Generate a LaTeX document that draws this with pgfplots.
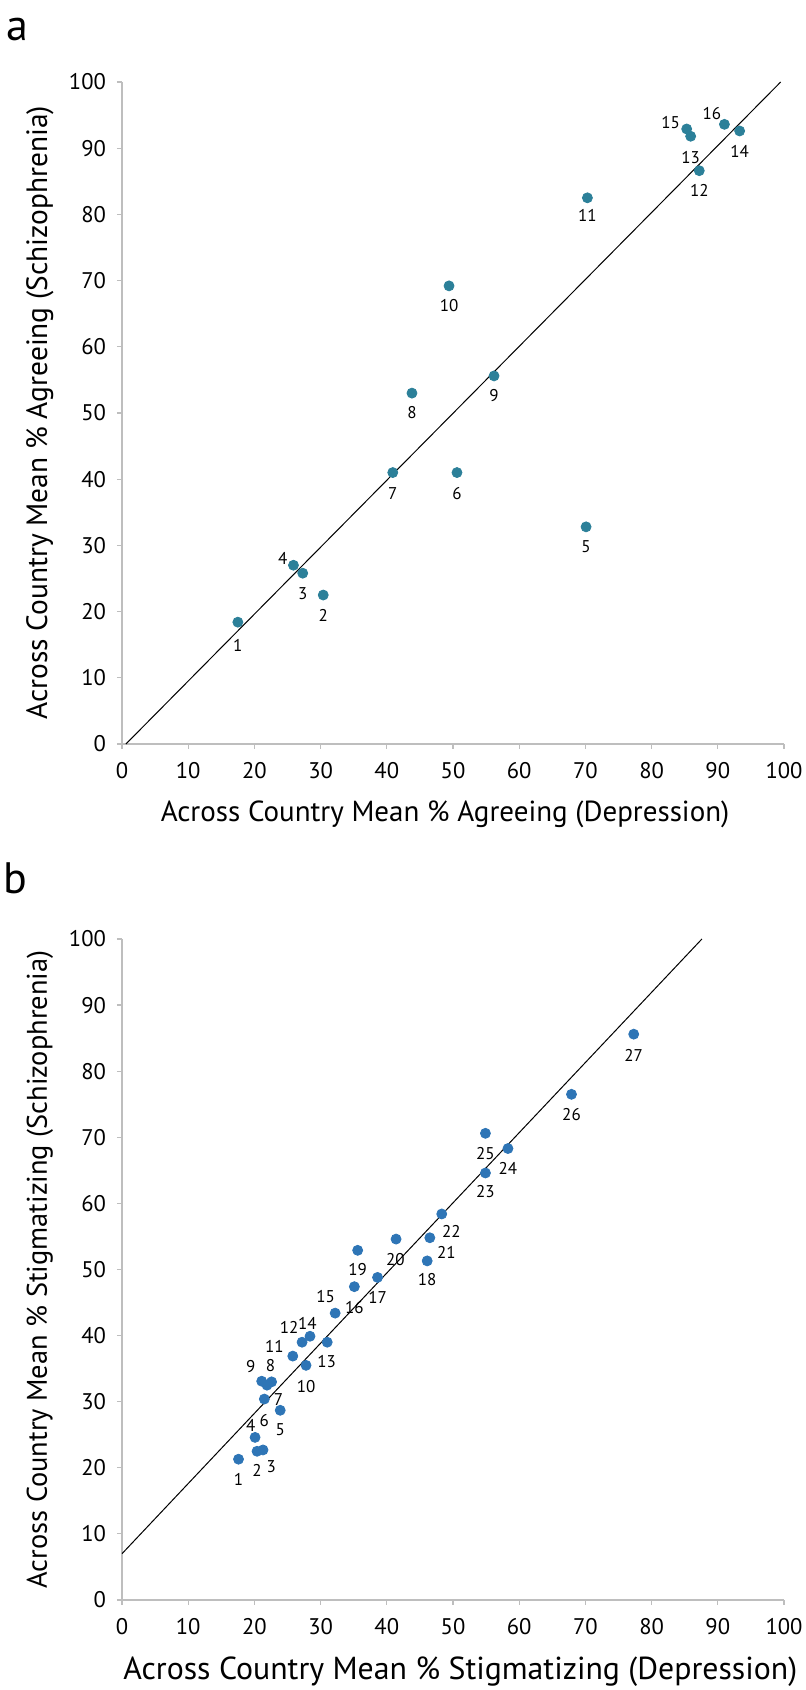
\documentclass[border=0pt]{standalone}
\usepackage{fontspec}
\setmainfont{PT Sans}
\usepackage{pgfplots}
\usepackage{pgfplotstable}
\pgfplotsset{compat=1.18}

\definecolor{axisgray}{RGB}{190,190,190}
\definecolor{dotA}{RGB}{44,128,153}
\definecolor{dotB}{RGB}{46,117,182}

% x = depression, y = schizophrenia, lab = item number, dx/dy = label offset (pt)
\pgfplotstableread{
x y lab dx dy
17.5 18.4 1 0 -11.5
30.4 22.5 2 0 -10
27.3 25.8 3 0 -10
25.9 27.0 4 -5.4 3.3
70.1 32.8 5 0 -10
50.6 41.0 6 0 -10.7
40.9 41.0 7 0 -10.3
43.8 53.0 8 0 -9.7
56.2 55.6 9 0 -9.7
49.4 69.2 10 0 -9.8
70.3 82.5 11 0 -9
87.2 86.6 12 0 -10
85.9 91.8 13 0 -10.5
93.3 92.6 14 0 -10
85.3 92.9 15 -8 3
91.0 93.6 16 -6.3 5.3
}\agreeing

\pgfplotstableread{
x y lab dx dy
17.6 21.3 1 0 -10
20.4 22.5 2 0 -9.7
21.3 22.7 3 4.1 -8.3
20.1 24.6 4 -2.2 6.2
23.9 28.7 5 0 -9.5
21.5 30.4 6 0 -10.5
21.9 32.5 7 5.8 -7
22.6 33.0 8 -0.5 8
21.1 33.1 9 -5.5 7.2
27.8 35.5 10 0 -10.8
25.8 36.9 11 -9.2 4.7
27.2 39.0 12 -6.5 7.5
31.0 39.0 13 -0.3 -9.8
28.4 39.9 14 -1.3 6.5
32.2 43.4 15 -4.8 8.2
35.1 47.4 16 0 -10.2
38.6 48.8 17 0 -9.8
46.1 51.3 18 0 -9.5
35.6 52.9 19 0 -9.8
41.4 54.6 20 -0.3 -10
46.5 54.8 21 8.3 -7.5
48.3 58.4 22 4.8 -8.5
54.9 64.6 23 0 -9.3
58.3 68.3 24 0 -9.8
54.9 70.6 25 0 -10
67.9 76.5 26 0 -10
77.3 85.6 27 0 -10.5
}\stigma

\pgfplotsset{
  panel/.style={
    scale only axis,
    width=331pt,
    anchor=south west,
    xmin=0, xmax=100, ymin=0, ymax=100,
    xtick={0,10,...,100}, ytick={0,10,...,100},
    axis x line*=bottom, axis y line*=left,
    axis line style={-, draw=axisgray, line width=0.6pt},
    tick align=outside,
    major tick length=2.5pt,
    tick style={draw=axisgray, line width=0.6pt},
    /pgf/number format/assume math mode=true,
    ticklabel style={font=\fontsize{11.3}{13}\selectfont, text=black},
    xticklabel style={yshift=-3pt},
    yticklabel style={xshift=-2pt},
    ylabel style={at={(axis description cs:-0.124,0.5)}, anchor=center},
    clip=false,
  },
  dots/.style={
    only marks, mark=*, mark size=2.5pt, color=#1,
    mark options={draw=none, fill=#1},
    point meta=explicit symbolic,
    nodes near coords,
    visualization depends on={\thisrow{dx} \as \dx},
    visualization depends on={\thisrow{dy} \as \dy},
    nodes near coords style={anchor=center, xshift=\dx pt, yshift=\dy pt,
      font=\fontsize{8.5}{10}\selectfont, text=black},
  },
}

\begin{document}
\begin{tikzpicture}
\path[use as bounding box] (0,0) rectangle (403pt,845pt);

\node[font=\fontsize{22}{26}\selectfont] at (8.8pt,830pt) {a};
\node[font=\fontsize{22}{26}\selectfont] at (7.5pt,406pt) {b};

\begin{axis}[panel, at={(61pt,473pt)}, height=331pt,
    xlabel={Across Country Mean \% Agreeing (Depression)},
    ylabel={Across Country Mean \% Agreeing (Schizophrenia)},
    xlabel style={at={(axis description cs:0.488,-0.107)}, anchor=center,
      font=\fontsize{14.5}{17}\selectfont},
    ylabel style={font=\fontsize{14.7}{17}\selectfont},
]
\addplot[black, line width=0.5pt] coordinates {(0.6,0) (99.5,100)};
\addplot[dots=dotA] table[x=x, y=y, meta=lab] {\agreeing};
\end{axis}

\begin{axis}[panel, at={(61pt,45pt)}, height=330.5pt,
    xlabel={Across Country Mean \% Stigmatizing (Depression)},
    ylabel={Across Country Mean \% Stigmatizing (Schizophrenia)},
    xlabel style={at={(axis description cs:0.511,-0.109)}, anchor=center,
      font=\fontsize{15.9}{19}\selectfont},
    ylabel style={font=\fontsize{14.2}{17}\selectfont},
]
\addplot[black, line width=0.5pt] coordinates {(0,7) (87.6,100)};
\addplot[dots=dotB] table[x=x, y=y, meta=lab] {\stigma};
\end{axis}
\end{tikzpicture}
\end{document}
